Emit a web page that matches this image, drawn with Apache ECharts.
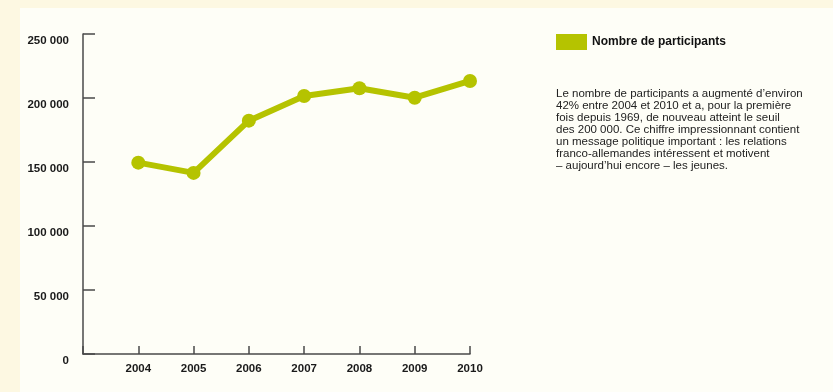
<!DOCTYPE html>
<html>
<head>
<meta charset="utf-8">
<script src="https://cdn.jsdelivr.net/npm/echarts@6/dist/echarts.min.js"></script>
<style>
html,body{margin:0;padding:0;background:#fdf8e2;width:833px;height:392px;overflow:hidden;}
#chart{position:absolute;left:20px;top:8px;width:813px;height:384px;background:#fefef7;}
</style>
</head>
<body>
<div id="chart"></div>
<script>
const years = [2004, 2005, 2006, 2007, 2008, 2009, 2010];
const participants = [149500, 141500, 182300, 201600, 207600, 200200, 213300];
const seriesName = 'Nombre de participants';
const yTicks = [0, 50000, 100000, 150000, 200000, 250000];
const note = "Le nombre de participants a augmenté d’environ\n42% entre 2004 et 2010 et a, pour la première\nfois depuis 1969, de nouveau atteint le seuil\ndes 200 000. Ce chiffre impressionnant contient\nun message politique important : les relations\nfranco-allemandes intéressent et motivent\n– aujourd’hui encore – les jeunes.";

const green = '#b5c300';
const font = '"Liberation Sans", Arial, sans-serif';
const fmt = v => String(v).replace(/\B(?=(\d{3})+(?!\d))/g, ' ');

const chart = echarts.init(document.getElementById('chart'));
chart.setOption({
  animation: false,
  textStyle: {fontFamily: font},
  grid: {left: 63, top: 26, width: 387, height: 320, containLabel: false},
  legend: {
    left: 536, top: 26, padding: 0, icon: 'rect', itemWidth: 31, itemHeight: 16, itemGap: 5,
    data: [seriesName],
    textStyle: {fontFamily: font, fontSize: 12, fontWeight: 'bold', color: '#111', padding: [0,0,0,0]}
  },
  xAxis: {
    type: 'value', min: years[0] - 1, max: years[years.length - 1], interval: 1,
    splitLine: {show: false},
    axisLine: {show: true, lineStyle: {color: '#4a4a4a', width: 1.5}},
    axisTick: {show: true, inside: true, length: 8, lineStyle: {color: '#4a4a4a', width: 1.5}},
    axisLabel: {
      margin: 9, fontSize: 11.5, fontWeight: 'bold', color: '#1a1a1a', fontFamily: font,
      formatter: v => years.indexOf(v) >= 0 ? String(v) : ''
    }
  },
  yAxis: {
    type: 'value', min: yTicks[0], max: yTicks[yTicks.length - 1], interval: yTicks[1] - yTicks[0],
    splitLine: {show: false},
    axisLine: {show: true, lineStyle: {color: '#4a4a4a', width: 1.5}},
    axisTick: {show: true, inside: true, length: 12, lineStyle: {color: '#4a4a4a', width: 1.5}},
    axisLabel: {
      margin: 14, fontSize: 11.5, fontWeight: 'bold', color: '#1a1a1a', fontFamily: font,
      verticalAlign: 'top', lineHeight: 13, formatter: fmt
    }
  },
  graphic: [{
    type: 'text', left: 536, top: 80,
    style: {text: note, font: '11.5px ' + font, fill: '#222', lineHeight: 12}
  }],
  series: [{
    name: seriesName, type: 'line',
    data: years.map((y, i) => [y, participants[i]]),
    lineStyle: {color: green, width: 6},
    itemStyle: {color: green},
    symbol: 'circle', symbolSize: 14, showSymbol: true
  }]
});
</script>
</body>
</html>
